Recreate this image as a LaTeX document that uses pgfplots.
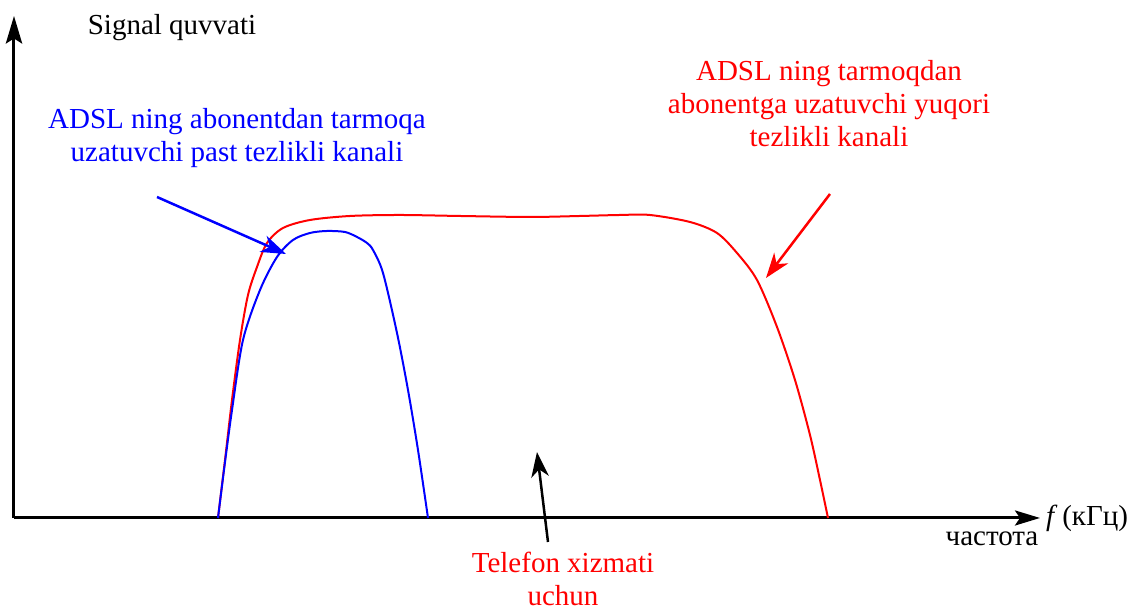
\documentclass[border=0pt]{standalone}
\usepackage{fontspec}
\setmainfont{Liberation Serif}
\usepackage{pgfplots}
\pgfplotsset{compat=1.18}
\usetikzlibrary{arrows.meta}
\begin{document}
\fontsize{11.6}{13.2}\selectfont
\begin{tikzpicture}[font=\fontsize{11.6}{13.2}\selectfont]
\begin{axis}[
  width=453.6pt, height=244pt, scale only axis,
  xmin=0, xmax=1134, ymin=0, ymax=610, y dir=reverse,
  hide axis, clip=false
]
% axes
\addplot[black, line width=1.2pt, -{Stealth[length=10pt,width=6pt,inset=2pt]}] coordinates {(14,518) (1040,518)};
\addplot[black, line width=1.2pt, -{Stealth[length=11pt,width=6.5pt,inset=2pt]}] coordinates {(14,518) (14,16)};
% red curve
\addplot[red, line width=0.8pt, smooth, tension=0.5] coordinates {
(218,518) (225,460) (232,400) (240,340) (248,295) (257,267) (267,243) (283,228) (310,220) (350,216) (400,215) (460,216) (530,217) (580,216) (620,215) (650,215) (690,222) (717,233) (737,253) (757,280) (777,327) (795,380) (810,435) (820,480) (828,518)};
% blue curve
\addplot[blue, line width=0.8pt, smooth, tension=0.5] coordinates {
(218,518) (224,470) (232,410) (243,340) (260,290) (277,257) (293,240) (310,233) (327,231) (345,232) (357,237) (367,243) (373,250) (383,273) (397,333) (408,390) (418,450) (428,518)};
% annotation arrows
\addplot[blue, line width=1pt, -{Stealth[length=10pt,width=7pt,inset=3pt]}] coordinates {(157,197) (286,254)};
\addplot[red, line width=1pt, -{Stealth[length=10pt,width=7pt,inset=3pt]}] coordinates {(830,194) (766,278)};
\addplot[black, line width=1pt, -{Stealth[length=10pt,width=7pt,inset=3pt]}] coordinates {(548,542) (537,452)};
% texts
\node[font=\fontsize{11.6}{13.2}\selectfont] at (axis cs:172,28) {Signal quvvati};
\node[anchor=east, inner sep=1pt, font=\fontsize{11.6}{13.2}\selectfont] at (axis cs:1131,518) {\textit{f}\,(кГц)};
\node[font=\fontsize{11.6}{13.2}\selectfont] at (axis cs:992,539) {частота};
\node[blue, align=center, font=\fontsize{11.6}{13.2}\selectfont] at (axis cs:237,138) {ADSL ning abonentdan tarmoqa\\uzatuvchi past tezlikli kanali};
\node[red, align=center, font=\fontsize{11.6}{13.2}\selectfont] at (axis cs:829,104) {ADSL ning tarmoqdan\\abonentga uzatuvchi yuqori\\tezlikli kanali};
\node[red, align=center, inner sep=1pt, font=\fontsize{11.6}{13.2}\selectfont] at (axis cs:563,579) {Telefon xizmati\\uchun};
\coordinate (BL) at (axis cs:0,610);
\coordinate (TR) at (axis cs:1134,0);
\end{axis}
\pgfresetboundingbox
\path (BL) rectangle (TR);
\end{tikzpicture}
\end{document}
